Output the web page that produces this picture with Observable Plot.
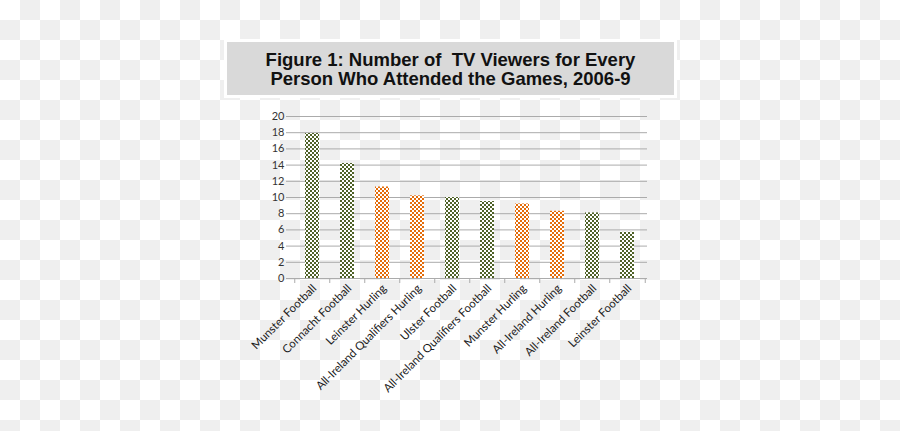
<!DOCTYPE html>
<html>
<head>
<meta charset="utf-8">
<script src="https://cdn.jsdelivr.net/npm/d3@7"></script>
<script src="https://cdn.jsdelivr.net/npm/@observablehq/plot@0.6"></script>
<style>
  html, body { margin: 0; padding: 0; }
  body {
    width: 900px; height: 431px; overflow: hidden; position: relative;
    background: repeating-conic-gradient(#efefef 0 25%, #ffffff 0 50%) 0 0 / 40px 40px;
  }
  #titlebox {
    position: absolute; left: 224px; top: 39px; width: 447px; height: 53px;
    border: 3px solid #ffffff; background: #d9d9d9;
    font-family: "Liberation Sans", Arial, sans-serif; font-weight: bold;
    font-size: 18.5px; line-height: 19px; color: #111;
    text-align: center; display: flex; flex-direction: column; justify-content: center;
  }
  #chart { position: absolute; left: 0; top: 0; }
</style>
</head>
<body>
<div id="titlebox"><div>Figure 1: Number of&nbsp; TV Viewers for Every</div><div>Person Who Attended the Games, 2006-9</div></div>
<div id="chart"></div>
<script>
const categories = ["Munster Football", "Connacht Football", "Leinster Hurling", "All-Ireland Qualifiers Hurling", "Ulster Football", "All-Ireland Qualifiers Football", "Munster Hurling", "All-Ireland Hurling", "All-Ireland Football", "Leinster Football"];
const values = [17.9, 14.2, 11.3, 10.2, 10.0, 9.5, 9.2, 8.3, 8.1, 5.7];
const sports = ["Football", "Football", "Hurling", "Hurling", "Football", "Football", "Hurling", "Hurling", "Football", "Football"];
const yTicks = [0, 2, 4, 6, 8, 10, 12, 14, 16, 18, 20];

const data = categories.map((c, i) => ({name: c, value: values[i], sport: sports[i]}));

const W = 900, H = 431;
const mL = 292, mR = 253, mT = 116, mB = 153;
const step = (W - mL - mR) / categories.length;
const half = step / 2;

const plot = Plot.plot({
  width: W, height: H,
  marginLeft: mL, marginRight: mR, marginTop: mT, marginBottom: mB,
  style: {background: "transparent", fontFamily: "Lato, sans-serif", fontSize: "11px", color: "#222"},
  x: {domain: categories, paddingInner: 0.59, paddingOuter: 0.295, label: null},
  y: {domain: [0, 20], label: null},
  color: {type: "ordinal", domain: ["Football", "Hurling"], range: ["url(#chkGreen)", "url(#chkOrange)"]},
  marks: [
    Plot.gridY(yTicks, {stroke: "#ababab", strokeOpacity: 1, strokeWidth: 1}),
    Plot.axisY(yTicks, {tickSize: 6, tickPadding: 2, stroke: "#ababab", fill: "#333", fontSize: "11px", label: null}),
    Plot.barY(data, {x: "name", y: "value", fill: "sport"}),
    Plot.ruleY([0], {stroke: "#ababab", strokeWidth: 1}),
    Plot.axisX(categories, {tickSize: 5, dx: -half, tickFormat: () => "", stroke: "#ababab", label: null}),
    Plot.axisX([categories[categories.length - 1]], {tickSize: 5, dx: half, tickFormat: () => "", stroke: "#ababab", label: null}),
    Plot.axisX(categories, {tickSize: 0, tickRotate: -45, tickPadding: 8, dx: 2, fill: "#1a1a1a", fontSize: "11.5px", label: null})
  ]
});

const svg = plot;
const ns = "http://www.w3.org/2000/svg";
const defs = document.createElementNS(ns, "defs");
function checker(id, color) {
  const p = document.createElementNS(ns, "pattern");
  p.setAttribute("id", id);
  p.setAttribute("width", 4); p.setAttribute("height", 4);
  p.setAttribute("patternUnits", "userSpaceOnUse");
  const bg = document.createElementNS(ns, "rect");
  bg.setAttribute("width", 4); bg.setAttribute("height", 4); bg.setAttribute("fill", "#ffffff");
  p.appendChild(bg);
  for (const [x, y] of [[0, 0], [2, 2]]) {
    const r = document.createElementNS(ns, "rect");
    r.setAttribute("x", x); r.setAttribute("y", y);
    r.setAttribute("width", 2); r.setAttribute("height", 2); r.setAttribute("fill", color);
    p.appendChild(r);
  }
  defs.appendChild(p);
}
checker("chkGreen", "#4f6228");
checker("chkOrange", "#e46c0a");
svg.insertBefore(defs, svg.firstChild);
document.getElementById("chart").appendChild(plot);
</script>
</body>
</html>
